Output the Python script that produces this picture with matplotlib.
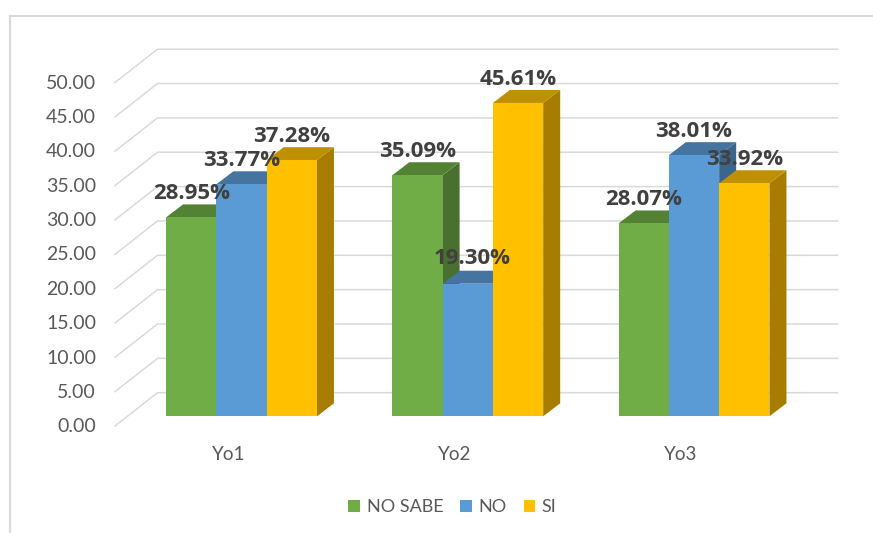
import numpy as np
import matplotlib
matplotlib.use("Agg")
import matplotlib.pyplot as plt
from matplotlib.patches import Polygon
from matplotlib.lines import Line2D

plt.rcParams['font.family'] = ['Lato', 'DejaVu Sans']

categories = ['Yo1', 'Yo2', 'Yo3']
no_sabe = [28.95, 35.09, 28.07]
no = [33.77, 19.30, 38.01]
si = [37.28, 45.61, 33.92]
y_ticks = [0, 5, 10, 15, 20, 25, 30, 35, 40, 45, 50]

W, H = 873, 533
PX_X = 226.25   # pixels per category
PX_Y = 6.87     # pixels per value unit
X0, Y0 = 241.5, 416.3   # pixel of category 0 / value 0 on the bar front plane


def dx(px):
    return px / PX_X


def dy(px):
    return px / PX_Y


fig = plt.figure(figsize=(W / 100, H / 100), dpi=100)
ax = fig.add_axes([0, 0, 1, 1])
ax.set_xlim(-X0 / PX_X, (W - X0) / PX_X)
ax.set_ylim(-(H - Y0) / PX_Y, Y0 / PX_Y)
ax.axis('off')

# chart frame, only left and top show in the screenshot
frame = '#D9D9D9'
fig.add_artist(Line2D([9.5 / W, 9.5 / W], [0, 1 - 16 / H], color=frame, lw=1.5))
fig.add_artist(Line2D([9.5 / W, 1], [1 - 16 / H, 1 - 16 / H], color=frame, lw=1.5))

# back wall and slanted floor/side lines
x_tick = dx(115 - X0)
x_back = dx(157.5 - X0)
x_end = dx(837.7 - X0)
for v in y_ticks:
    yf = v - dy(9.7)
    yb = v + dy(23.6)
    ax.plot([x_tick, x_back, x_end], [yf, yb, yb], color='#D9D9D9', lw=1.1, zorder=1,
            solid_joinstyle='miter')
    ax.text(dx(96 - X0), yf - dy(0.7), '%.2f' % v, ha='right', va='center', fontsize=14, color='#595959')

for i, c in enumerate(categories):
    ax.text(i + dx(-13.2), dy(416.3 - 454.5), c, ha='center', va='center', fontsize=13.5, color='#595959')

series = [
    ('NO SABE', no_sabe, '#70AD47', '#548235', '#49702E'),
    ('NO', no, '#5B9BD5', '#44749F', '#3B658A'),
    ('SI', si, '#FFC000', '#BF9000', '#A67D00'),
]
bar_w = 50.3 / PX_X
depth_x = dx(17)
depth_y = dy(13)

x = np.arange(len(categories))
handles = []
z = 2
for k, (name, vals, col, top, side) in enumerate(series):
    xs = x + (k - 1) * bar_w
    for xi, v in zip(xs, vals):
        l = xi - bar_w / 2
        r = xi + bar_w / 2
        ax.add_patch(Polygon([(r, 0), (r + depth_x, depth_y), (r + depth_x, v + depth_y), (r, v)],
                             closed=True, fc=side, ec='none', zorder=z))
        ax.add_patch(Polygon([(l, v), (l + depth_x, v + depth_y), (r + depth_x, v + depth_y), (r, v)],
                             closed=True, fc=top, ec='none', zorder=z))
    b = ax.bar(xs, vals, width=bar_w, color=col, label=name, zorder=z + 1)
    handles.append(b)
    z += 2

# data labels go over all bars, the short middle one sits a bit off
for k, (name, vals, col, top, side) in enumerate(series):
    xs = x + (k - 1) * bar_w
    for i, (xi, v) in enumerate(zip(xs, vals)):
        nudge_x, nudge_y = (4, 2) if (k == 1 and i == 1) else (0, 0)
        ax.text(xi + dx(nudge_x), v + dy(23.5 + nudge_y), '%.2f%%' % v, ha='center', va='center',
                fontsize=16, fontweight='bold', family=['Open Sans', 'DejaVu Sans'],
                color='#404040', zorder=20)

ax.legend(handles=handles, loc='center', bbox_to_anchor=(452.5 / W, 1 - 507 / H),
          bbox_transform=fig.transFigure, ncol=3, frameon=False, fontsize=13,
          labelcolor='#595959', handlelength=0.65, handleheight=0.65, handletextpad=0.35,
          columnspacing=0.95, borderpad=0)

fig.savefig('out.png', dpi=100)
